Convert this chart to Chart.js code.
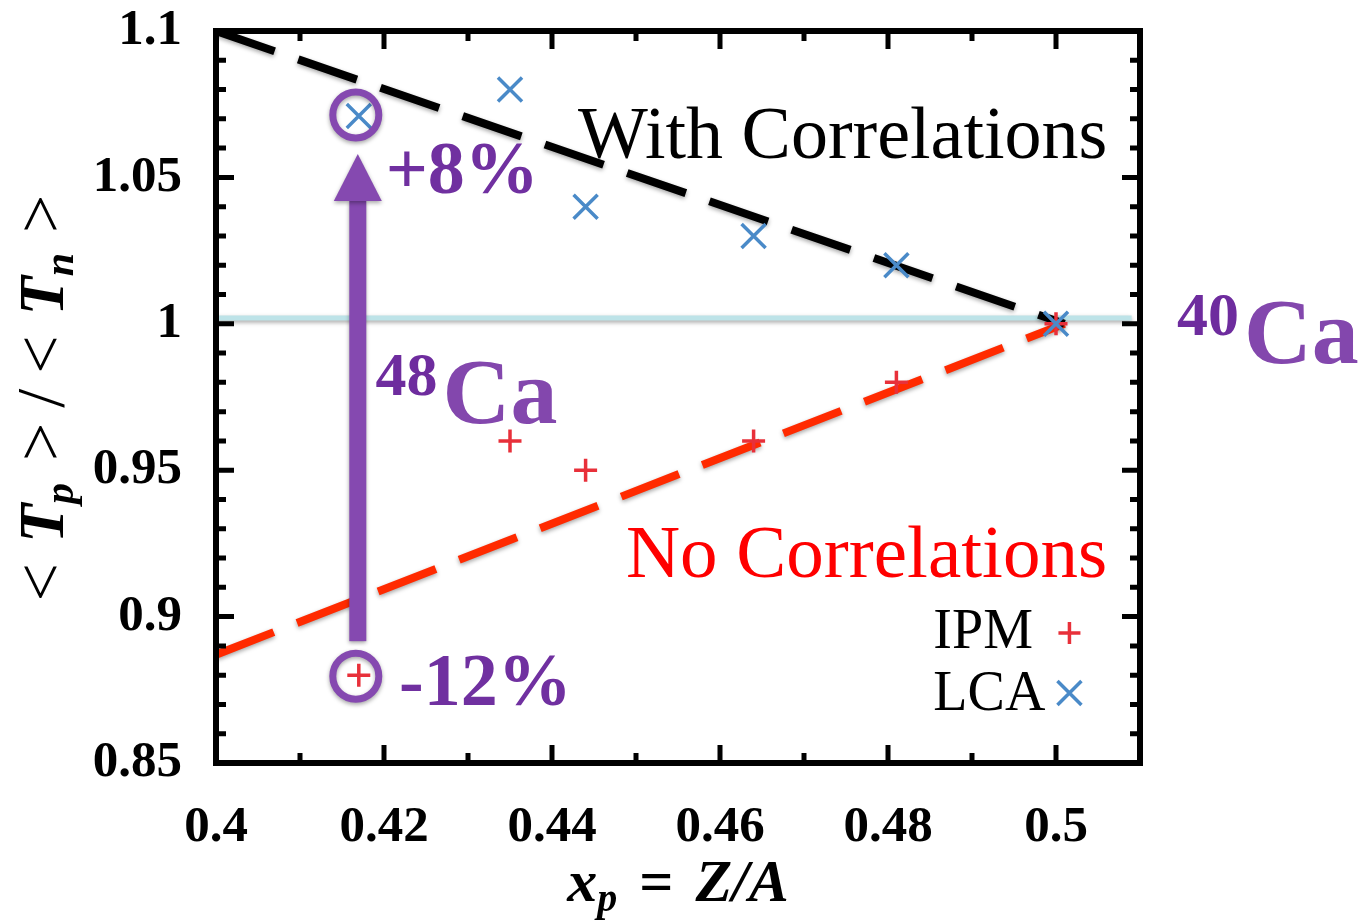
<!DOCTYPE html>
<html>
<head>
<meta charset="utf-8">
<script src="https://cdn.jsdelivr.net/npm/chart.js@4.4.1/dist/chart.umd.min.js"></script>
<style>
  html, body { margin: 0; padding: 0; background: #fff; }
</style>
</head>
<body>
<canvas id="c" width="1370" height="921"></canvas>
<script>
// data
var lcaX = [0.417, 0.435, 0.444, 0.464, 0.481, 0.500];
var lcaY = [1.071, 1.080, 1.040, 1.030, 1.020, 1.000];
var ipmX = [0.417, 0.435, 0.444, 0.464, 0.481, 0.500];
var ipmY = [0.880, 0.960, 0.950, 0.960, 0.980, 1.000];

// guide lines
var withCorrX = [0.400, 0.501];
var withCorrY = [1.100, 1.000];
var noCorrX = [0.400, 0.501];
var noCorrY = [0.887, 1.000];
var refX = [0.400, 0.509];
var refY = [1.002, 1.002];

// axis ranges / ticks
var xMin = 0.40, xMax = 0.51, xStep = 0.01;
var yMin = 0.85, yMax = 1.10, yStep = 0.01;

// text annotations (data coords, left / baseline)
var notes = [
  { text: 'With Correlations', x: 0.4431, y: 1.0566, color: '#000000', font: '74px "Liberation Serif"' },
  { text: 'No Correlations', x: 0.4488, y: 0.9135, color: '#ff0000', font: '75px "Liberation Serif"' },
  { text: '+8%', x: 0.4202, y: 1.0447, color: '#7030a0', font: 'bold 74px "Liberation Serif"' },
  { text: '-12%', x: 0.4218, y: 0.8698, color: '#7030a0', font: 'bold 74px "Liberation Serif"' }
];
var isotopes = [
  { mass: '48', name: 'Ca', x: 0.4190, y: 0.9661 },
  { mass: '40', name: 'Ca', x: 0.5144, y: 0.9866 }
];
var legendItems = [
  { text: 'IPM', x: 0.4854, y: 0.8893, mx: 0.5016, my: 0.8944, style: 'cross', color: '#e8303a' },
  { text: 'LCA', x: 0.4854, y: 0.8681, mx: 0.5016, my: 0.8739, style: 'crossRot', color: '#4a8ac8' }
];

function pts(xs, ys) {
  return xs.map(function (x, i) { return { x: x, y: ys[i] }; });
}

function fmt(v) { return String(Math.round(v * 100) / 100); }

function drawMarker(ctx, style, x, y, color) {
  ctx.save();
  ctx.strokeStyle = color;
  ctx.lineWidth = 3.5;
  ctx.beginPath();
  if (style === 'cross') {
    ctx.moveTo(x - 11, y); ctx.lineTo(x + 11, y);
    ctx.moveTo(x, y - 11); ctx.lineTo(x, y + 11);
  } else {
    ctx.moveTo(x - 12, y - 12); ctx.lineTo(x + 12, y + 12);
    ctx.moveTo(x - 12, y + 12); ctx.lineTo(x + 12, y - 12);
  }
  ctx.stroke();
  ctx.restore();
}

var shadowLines = {
  id: 'shadowLines',
  beforeDatasetDraw: function (chart, args) {
    var ctx = chart.ctx;
    ctx.save();
    if (args.meta.type === 'line' && args.index >= 2) {
      ctx.shadowColor = 'rgba(0,0,0,0.35)';
      ctx.shadowBlur = 4;
      ctx.shadowOffsetY = 2;
    }
  },
  afterDatasetDraw: function (chart) {
    chart.ctx.restore();
  }
};

var decorate = {
  id: 'decorate',
  afterDraw: function (chart) {
    var ctx = chart.ctx;
    var xs = chart.scales.x, ys = chart.scales.y;
    var a = chart.chartArea;

    // inward ticks on all four sides
    ctx.save();
    ctx.strokeStyle = '#000';
    ctx.lineWidth = 5;
    ctx.beginPath();
    xs.ticks.forEach(function (t) {
      var p = xs.getPixelForValue(t.value);
      var len = Math.round(t.value * 100) % 2 === 0 ? 18 : 10;
      ctx.moveTo(p, a.bottom); ctx.lineTo(p, a.bottom - len);
      ctx.moveTo(p, a.top); ctx.lineTo(p, a.top + len);
    });
    ys.ticks.forEach(function (t) {
      var p = ys.getPixelForValue(t.value);
      var len = Math.round(t.value * 100) % 5 === 0 ? 18 : 10;
      ctx.moveTo(a.left, p); ctx.lineTo(a.left + len, p);
      ctx.moveTo(a.right, p); ctx.lineTo(a.right - len, p);
    });
    ctx.stroke();
    ctx.lineWidth = 6;
    ctx.strokeRect(a.left, a.top, a.right - a.left, a.bottom - a.top);
    ctx.restore();

    // circles and arrow around the 48Ca points
    var cx = xs.getPixelForValue(lcaX[0]);
    var cyTop = ys.getPixelForValue(lcaY[0]);
    var cyBot = ys.getPixelForValue(ipmY[0]);
    var purple = '#8549b0';
    ctx.save();
    ctx.shadowColor = 'rgba(0,0,0,0.35)';
    ctx.shadowBlur = 4;
    ctx.shadowOffsetY = 2;
    ctx.strokeStyle = purple;
    ctx.lineWidth = 7;
    ctx.beginPath(); ctx.arc(cx - 3, cyTop - 1, 23, 0, Math.PI * 2); ctx.stroke();
    ctx.beginPath(); ctx.arc(cx - 3, cyBot + 1, 23, 0, Math.PI * 2); ctx.stroke();

    var ax = cx - 1;
    var tip = cyTop + 38, headBase = cyTop + 85, tail = cyBot - 34;
    ctx.fillStyle = purple;
    ctx.fillRect(ax - 8.5, headBase - 1, 17, tail - headBase + 1);
    ctx.beginPath();
    ctx.moveTo(ax, tip);
    ctx.lineTo(ax + 24, headBase);
    ctx.lineTo(ax - 24, headBase);
    ctx.closePath();
    ctx.fill();
    ctx.restore();

    // text notes
    ctx.save();
    ctx.textBaseline = 'alphabetic';
    ctx.textAlign = 'left';
    notes.forEach(function (n) {
      ctx.font = n.font;
      ctx.fillStyle = n.color;
      ctx.fillText(n.text, xs.getPixelForValue(n.x), ys.getPixelForValue(n.y));
    });
    isotopes.forEach(function (iso) {
      var px = xs.getPixelForValue(iso.x), py = ys.getPixelForValue(iso.y);
      ctx.font = 'bold 62px "Liberation Serif"';
      ctx.fillStyle = '#6e2c9e';
      ctx.fillText(iso.mass, px, py - 28);
      var w = ctx.measureText(iso.mass).width;
      ctx.font = 'bold 94px "Liberation Serif"';
      ctx.fillStyle = '#8347ad';
      ctx.fillText(iso.name, px + w + 5, py);
    });

    // legend (text then marker)
    legendItems.forEach(function (l) {
      ctx.font = '56px "Liberation Serif"';
      ctx.fillStyle = '#000';
      ctx.fillText(l.text, xs.getPixelForValue(l.x), ys.getPixelForValue(l.y));
      drawMarker(ctx, l.style, xs.getPixelForValue(l.mx), ys.getPixelForValue(l.my), l.color);
    });

    // x axis title: x_p = Z/A
    var parts = [
      { t: 'x', f: 'italic bold 60px "Liberation Serif"', dy: 0, gap: 0 },
      { t: 'p', f: 'italic bold 40px "Liberation Serif"', dy: 10, gap: 22 },
      { t: '=', f: 'bold 60px "Liberation Serif"', dy: 0, gap: 22 },
      { t: 'Z/A', f: 'italic bold 60px "Liberation Serif"', dy: 0, gap: 0 }
    ];
    var total = 0;
    parts.forEach(function (p) { ctx.font = p.f; p.w = ctx.measureText(p.t).width; total += p.w + p.gap; });
    var sx = (a.left + a.right) / 2 - total / 2;
    ctx.fillStyle = '#000';
    parts.forEach(function (p) {
      ctx.font = p.f;
      ctx.fillText(p.t, sx, 901 + p.dy);
      sx += p.w + p.gap;
    });

    // y axis title: < T_p > / < T_n >
    var sym = '68px "Liberation Serif"';
    var yparts = [
      { t: '<', f: sym, dy: 0, gap: 20 },
      { t: 'T', f: 'italic bold 64px "Liberation Serif"', dy: 0, gap: 0 },
      { t: 'p', f: 'italic bold 42px "Liberation Serif"', dy: 10, gap: 22 },
      { t: '>', f: sym, dy: 0, gap: 15 },
      { t: '/', f: sym, dy: 0, gap: 15 },
      { t: '<', f: sym, dy: 0, gap: 20 },
      { t: 'T', f: 'italic bold 64px "Liberation Serif"', dy: 0, gap: 0 },
      { t: 'n', f: 'italic bold 42px "Liberation Serif"', dy: 10, gap: 20 },
      { t: '>', f: sym, dy: 0, gap: 0 }
    ];
    var ytot = 0;
    yparts.forEach(function (p) { ctx.font = p.f; p.w = ctx.measureText(p.t).width; ytot += p.w + p.gap; });
    ctx.translate(63, 398);
    ctx.rotate(-Math.PI / 2);
    var ty = -ytot / 2;
    yparts.forEach(function (p) {
      ctx.font = p.f;
      ctx.fillText(p.t, ty, p.dy);
      ty += p.w + p.gap;
    });
    ctx.restore();
  }
};

new Chart(document.getElementById('c').getContext('2d'), {
  type: 'scatter',
  data: {
    datasets: [
      {
        label: 'LCA', data: pts(lcaX, lcaY), order: 0,
        pointStyle: 'crossRot', pointRadius: 17, pointBorderWidth: 3.5,
        borderColor: '#4a8ac8', backgroundColor: '#4a8ac8'
      },
      {
        label: 'IPM', data: pts(ipmX, ipmY), order: 0,
        pointStyle: 'cross', pointRadius: 11.5, pointBorderWidth: 3.5,
        borderColor: '#e8303a', backgroundColor: '#e8303a'
      },
      {
        type: 'line', label: 'With Correlations', data: pts(withCorrX, withCorrY), order: 1,
        borderColor: '#000000', borderWidth: 8, borderDash: [62, 25], pointRadius: 0, fill: false
      },
      {
        type: 'line', label: 'No Correlations', data: pts(noCorrX, noCorrY), order: 1,
        borderColor: '#ff2a00', borderWidth: 8, borderDash: [62, 25], pointRadius: 0, fill: false
      },
      {
        type: 'line', label: 'ref', data: pts(refX, refY), order: 2,
        borderColor: '#bde3e8', borderWidth: 5, pointRadius: 0, fill: false
      }
    ]
  },
  options: {
    responsive: false,
    animation: false,
    events: [],
    layout: { padding: { left: 0, top: 31, right: 230, bottom: 0 } },
    plugins: { legend: { display: false }, tooltip: { enabled: false } },
    scales: {
      x: {
        type: 'linear', min: xMin, max: xMax,
        grid: { display: false }, border: { display: false },
        afterFit: function (s) { s.height = 158; s.paddingLeft = 0; s.paddingRight = 0; },
        ticks: {
          stepSize: xStep, autoSkip: false, maxRotation: 0, padding: 26,
          color: '#000', font: { family: 'Liberation Serif', weight: 'bold', size: 51 },
          callback: function (v) { return Math.round(v * 100) % 2 === 0 ? fmt(v) : ''; }
        }
      },
      y: {
        type: 'linear', min: yMin, max: yMax,
        grid: { display: false }, border: { display: false },
        afterFit: function (s) { s.width = 216; s.paddingTop = 0; s.paddingBottom = 0; },
        ticks: {
          stepSize: yStep, autoSkip: false, padding: 26,
          color: '#000', font: { family: 'Liberation Serif', weight: 'bold', size: 51 },
          callback: function (v) { return Math.round(v * 100) % 5 === 0 ? fmt(v) : ''; }
        }
      }
    }
  },
  plugins: [shadowLines, decorate]
});
</script>
</body>
</html>
